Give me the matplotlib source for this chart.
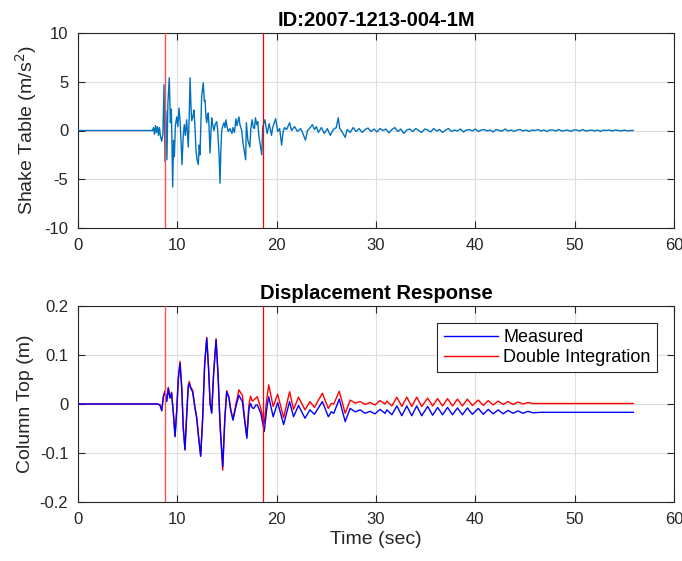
import matplotlib
matplotlib.use("Agg")
import matplotlib.pyplot as plt

plt.rcParams['font.family'] = ['Liberation Sans', 'DejaVu Sans']
plt.rcParams['axes.unicode_minus'] = False

# ---------------- data ----------------
title_top = "ID:2007-1213-004-1M"
title_bottom = "Displacement Response"
marker_times = [8.75, 18.65]

acc_t = [0, 7.5, 7.6, 7.7, 7.8, 7.9, 8.0, 8.1, 8.2, 8.3, 8.43, 8.55, 8.66, 8.76, 8.85, 8.95,
         9.05, 9.19, 9.3, 9.4, 9.53, 9.62, 9.70, 9.8, 9.94, 10.05, 10.17, 10.27, 10.38, 10.47,
         10.6, 10.70, 10.8, 10.94, 11.10, 11.2, 11.28, 11.37, 11.45, 11.58, 11.68, 11.78, 11.88,
         11.98, 12.11, 12.2, 12.28, 12.38, 12.45, 12.61, 12.72, 12.79, 12.88, 12.96, 13.05, 13.12,
         13.2, 13.29, 13.37, 13.46, 13.56, 13.69, 13.8, 13.96, 14.05, 14.12, 14.2, 14.30, 14.38,
         14.47, 14.58, 14.70, 14.8, 14.90, 15.0, 15.13, 15.3, 15.5, 15.6, 15.75, 15.9, 16.0, 16.2,
         16.3, 16.48, 16.6, 16.88, 16.95, 17.1, 17.3, 17.4, 17.53, 17.65, 17.77, 17.86, 18.0, 18.1,
         18.2, 18.5, 18.6, 18.82, 18.95, 19.05, 19.25, 19.48, 19.6, 19.9, 20.1, 20.3, 20.5, 20.65,
         20.8, 21.0, 21.3, 21.5, 21.8, 22.1, 22.4, 22.6, 22.9, 23.1, 23.3, 23.6, 23.8, 24.0, 24.2,
         24.5, 24.8, 25.1, 25.4, 25.7, 26.0, 26.2, 26.35, 26.5, 26.9, 27.1, 27.4, 27.7, 28.0, 28.3,
         28.6, 28.9, 29.2, 29.5, 29.8, 30.1, 30.4, 30.7, 31.0, 31.3, 31.6, 31.9, 32.2, 32.5, 32.8,
         33.1, 33.4, 33.7, 34.0, 34.3, 34.6, 34.9, 35.2, 35.5, 35.8, 36.1, 36.4, 36.7, 37.0, 37.3,
         37.6, 37.9, 38.2, 38.5, 38.8, 39.1, 39.4, 39.7, 40.0, 40.3, 40.6, 40.9, 41.2, 41.5, 41.8,
         42.1, 42.4, 42.7, 43.0, 43.3, 43.6, 43.9, 44.2, 44.5, 44.8, 45.1, 45.4, 45.7, 46.0, 46.3,
         46.6, 46.9, 47.2, 47.5, 47.8, 48.1, 48.4, 48.7, 49.0, 49.3, 49.6, 49.9, 50.2, 50.5, 50.8,
         51.1, 51.4, 51.7, 52.0, 52.3, 52.6, 52.9, 53.2, 53.5, 53.8, 54.1, 54.4, 54.7, 55.0, 55.3,
         55.6, 55.9]
acc_v = [0, 0, 0.3, -0.4, 0.5, -0.2, 0.4, -0.5, 0.3, -0.6, -1.1, -0.3, 4.7, -3.2, 2.0, -3.0,
         2.8, 5.4, 0.8, 2.2, -5.8, -1.0, -2.7, 0.5, 1.4, 0.4, 2.3, 1.0, -1.2, -3.5,
         -0.4, 0.6, -0.5, 1.1, -1.7, 1.5, 5.4, 2.5, 1.0, 1.5, 2.1, 0.2, -2.0,
         -3.0, -3.5, -1.5, -2.5, 1.2, 3.5, 4.9, 3.0, 3.1, 1.5, 0.8, 1.6, 1.8,
         0.2, -2.3, -0.5, 1.3, 0.6, 0.0, 0.6, 0.9, 0.2, -1.1, -2.5, -5.4, -2.0,
         0.0, 0.5, 0.8, 0.3, 1.1, 0.4, -0.1, 0.2, -0.3, 0.3, -0.2, 1.2, 0.5, 1.4,
         0.6, 0.0, -1.2, -3.0, 0.8, -1.0, -1.7, 0.2, 1.1, 0.3, 0.2, 1.3, 0.6, 0.9,
         -0.5, -2.5, 0.4, 1.1, 0.2, -0.3, 0.7, -0.5, 0.3, 1.2, -0.1, 0.2, -1.5, -0.1,
         0.3, 0.1, 0.8, 0.0, 0.4, -0.1, 0.2, -0.2, -1.0, 0.0, 0.2, 0.6, 0.1, 0.4, -0.2,
         0.3, -0.3, 0.2, -0.5, 0.1, 0.3, 1.3, 0.2, 0.0, -0.7, 0.1, -0.2, 0.3, -0.1, 0.2,
         -0.2, 0.1, 0.25, -0.1, 0.15, -0.15, 0.2, 0.0, 0.15, -0.25, 0.1, 0.3, -0.1, 0.15, -0.3,
         0.05, 0.15, -0.1, 0.2, 0.0, -0.2, 0.15, 0.05, -0.15, 0.2, -0.05, 0.1, -0.2, 0.05, 0.2,
         -0.1, 0.05, -0.05, 0.15, -0.15, 0.05, 0.1, -0.05, 0.15, -0.1, 0.05, 0.1, -0.05, 0.05, -0.15,
         0.1, 0.0, -0.05, 0.15, -0.05, 0.05, -0.1, 0.05, 0.1, -0.05, 0.05, -0.1, 0.05, 0.0, 0.1,
         -0.05, 0.05, -0.1, 0.05, 0.05, -0.05, 0.1, -0.05, 0.0, 0.05, -0.1, 0.05, 0.05, -0.05, 0.1,
         -0.05, 0.0, 0.05, -0.05, 0.05, -0.1, 0.05, 0.0, 0.05, -0.05, 0.05, 0.0, -0.05, 0.05, -0.05,
         0.0, 0.0]

disp_t = [0, 8.0, 8.25, 8.43, 8.6, 8.76, 8.93, 9.09, 9.25, 9.42, 9.6, 9.77, 9.95, 10.1, 10.27,
          10.45, 10.6, 10.77, 10.95, 11.1, 11.2, 11.34, 11.54, 11.75, 11.95, 12.15, 12.35, 12.55,
          12.75, 12.96, 13.15, 13.3, 13.46, 13.65, 13.9, 14.1, 14.3, 14.57, 14.78, 14.97, 15.2,
          15.35, 15.6, 15.9, 16.2, 16.4, 16.55, 16.75, 17.0, 17.2, 17.37, 17.55, 17.7, 17.9, 18.05,
          18.4, 18.75, 19.0, 19.2, 19.65, 20.1, 20.7, 21.3, 21.7, 22.2, 22.85, 23.35, 23.8, 24.6,
          25.2, 25.5, 25.75, 26.3, 26.9, 27.4, 27.9, 28.4, 28.9, 29.4, 29.9, 30.4, 30.9, 31.1,
          31.6, 32.1, 32.6, 33.1, 33.6, 34.1, 34.6, 35.2, 35.7, 36.2, 36.7, 37.2, 37.7, 38.2,
          38.7, 39.2, 39.7, 40.3, 40.8, 41.3, 41.8, 42.3, 42.8, 43.3, 43.8, 44.3, 44.8, 45.3,
          45.8, 46.5, 50.0, 55.9]
disp_measured = [0, 0, -0.002, -0.014, 0.015, 0.025, 0.005, 0.032, 0.012, 0.022, -0.02, -0.067,
                 -0.01, 0.05, 0.083, 0.03, -0.05, -0.094, -0.02, 0.035, 0.042, 0.032, 0.025,
                 -0.005, -0.029, -0.07, -0.107, -0.03, 0.08, 0.134, 0.07, 0.0, -0.019, 0.06,
                 0.131, 0.06, -0.04, -0.128, -0.03, 0.025, 0.012, -0.01, -0.033, -0.005, 0.018,
                 0.01, 0.005, -0.03, -0.07, -0.012, 0.001, -0.008, -0.009, -0.002, -0.002,
                 -0.019, -0.056, -0.01, 0.015, -0.026, 0.003, -0.042, 0.005, -0.026, -0.003,
                 -0.029, -0.012, -0.021, 0.005, -0.026, -0.016, -0.019, 0.010, -0.036, -0.009,
                 -0.016, -0.012, -0.019, -0.015, -0.020, -0.011, -0.019, -0.012, -0.022, -0.004,
                 -0.024, -0.004, -0.024, -0.004, -0.024, -0.005, -0.023, -0.007, -0.022, -0.007,
                 -0.022, -0.008, -0.022, -0.008, -0.021, -0.009, -0.021, -0.011, -0.020, -0.012,
                 -0.020, -0.013, -0.019, -0.014, -0.019, -0.015, -0.018, -0.017, -0.017, -0.017]
disp_double_int = [0, 0, -0.002, -0.012, 0.017, 0.027, 0.006, 0.034, 0.013, 0.024, -0.018,
                   -0.065, -0.008, 0.055, 0.087, 0.032, -0.048, -0.092, -0.018, 0.038, 0.046,
                   0.035, 0.028, -0.003, -0.027, -0.068, -0.105, -0.028, 0.082, 0.136, 0.072,
                   0.002, -0.017, 0.062, 0.133, 0.058, -0.045, -0.135, -0.032, 0.027, 0.014,
                   -0.008, -0.031, 0.0, 0.029, 0.022, 0.018, -0.025, -0.066, -0.002, 0.016,
                   0.006, 0.008, 0.012, 0.015, -0.009, -0.039, 0.01, 0.039, -0.005, 0.020,
                   -0.028, 0.025, -0.011, 0.014, -0.012, 0.005, -0.007, 0.022, -0.009, 0.001,
                   0.0, 0.026, -0.019, 0.008, 0.002, 0.005, -0.001, 0.003, -0.002, 0.007, 0.0,
                   0.006, -0.004, 0.014, -0.005, 0.014, -0.005, 0.014, -0.005, 0.012, -0.004,
                   0.011, -0.004, 0.011, -0.004, 0.010, -0.004, 0.010, -0.003, 0.008, -0.003,
                   0.007, -0.002, 0.006, -0.001, 0.005, -0.001, 0.004, 0.0, 0.003, 0.001,
                   0.001, 0.001, 0.001]

acc_color = "#0072BD"
grid_color = "#DFDFDF"
axis_color = "#262626"

fig = plt.figure(figsize=(6.82, 5.61), dpi=100)
ax1 = fig.add_axes([78/682, (561-228)/561, 596/682, 195/561])
ax2 = fig.add_axes([78/682, (561-502)/561, 596/682, 196/561])


def style(ax):
    ax.set_xlim(0, 60)
    ax.set_xticks(range(0, 61, 10))
    ax.grid(True, color=grid_color, linewidth=0.8)
    ax.set_axisbelow(True)
    for s in ax.spines.values():
        s.set_color(axis_color)
        s.set_linewidth(0.8)
    ax.tick_params(direction='in', top=True, right=True, length=5, width=0.8,
                   colors=axis_color, labelsize=12, labelcolor='#262626', pad=7)


ax1.plot(acc_t, acc_v, color=acc_color, linewidth=1.0, zorder=3)
ax1.axvline(marker_times[0], color='#FF5050', linewidth=1.0, zorder=4)
ax1.axvline(marker_times[1], color='red', linewidth=0.9, zorder=4)
ax1.set_ylim(-10, 10)
ax1.set_yticks([-10, -5, 0, 5, 10])
style(ax1)
ax1.set_ylabel("Shake Table (m/s$^2$)", fontsize=14, color='#262626', labelpad=4)
ax1.set_title(title_top, fontsize=14.5, fontweight='bold', pad=5)

l_red, = ax2.plot(disp_t, disp_double_int, color='red', linewidth=1.0, zorder=3)
l_blue, = ax2.plot(disp_t, disp_measured, color='blue', linewidth=1.0, zorder=4)
ax2.axvline(marker_times[0], color='#FF5050', linewidth=1.0, zorder=5)
ax2.axvline(marker_times[1], color='red', linewidth=0.9, zorder=5)
ax2.set_ylim(-0.2, 0.2)
ax2.set_yticks([-0.2, -0.1, 0, 0.1, 0.2])
ax2.set_yticklabels(["-0.2", "-0.1", "0", "0.1", "0.2"])
style(ax2)
ax2.set_ylabel("Column Top (m)", fontsize=14, color='#262626', labelpad=4)
ax2.set_xlabel("Time (sec)", fontsize=14, color='#262626', labelpad=3)
ax2.set_title(title_bottom, fontsize=14.5, fontweight='bold', pad=5)

leg = ax2.legend([l_blue, l_red], ["Measured", "Double Integration"], loc='upper right',
                 bbox_to_anchor=(0.9715, 0.913), fontsize=13, fancybox=False,
                 framealpha=1, edgecolor='#262626', handlelength=3.0,
                 borderpad=0.35, labelspacing=0.15, handletextpad=0.3, borderaxespad=0)
leg.get_frame().set_linewidth(0.8)

fig.savefig("out.png", dpi=100)
